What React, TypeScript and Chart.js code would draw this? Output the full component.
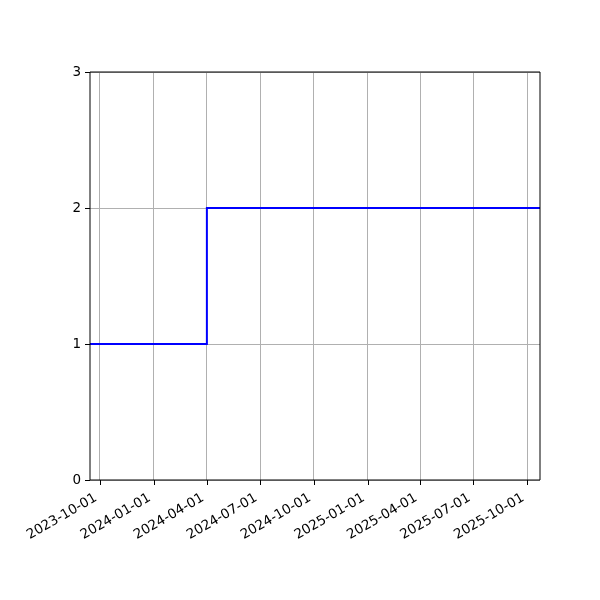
import React, { useEffect, useRef } from 'react';
import { Chart, registerables } from 'chart.js';

Chart.register(...registerables);

const dates = ['2023-09-14', '2024-04-01', '2025-10-23'];
const values = [1, 2, 2];
const xTickLabels = [
  '2023-10-01', '2024-01-01', '2024-04-01', '2024-07-01', '2024-10-01',
  '2025-01-01', '2025-04-01', '2025-07-01', '2025-10-01',
];
const yTicks = [0, 1, 2, 3];

const toDay = (s: string) => Date.parse(s + 'T00:00:00Z') / 86400000;
const fromDay = (d: number) => new Date(Math.round(d) * 86400000).toISOString().slice(0, 10);

// draw black outward tick marks and the frame like matplotlib
const framePlugin = {
  id: 'frame',
  afterDraw(chart: any) {
    const { ctx, chartArea: a, scales } = chart;
    ctx.save();
    ctx.strokeStyle = '#000';
    ctx.lineWidth = 1;
    ctx.beginPath();
    ctx.moveTo(a.left, a.top);
    ctx.lineTo(a.right, a.top);
    ctx.lineTo(a.right, a.bottom);
    ctx.lineTo(a.left, a.bottom);
    ctx.lineTo(a.left, a.top);
    scales.x.ticks.forEach((_: any, i: number) => {
      const x = Math.round(scales.x.getPixelForTick(i)) + 0.5;
      ctx.moveTo(x, a.bottom);
      ctx.lineTo(x, a.bottom + 5);
    });
    scales.y.ticks.forEach((_: any, i: number) => {
      const y = Math.round(scales.y.getPixelForTick(i)) + 0.5;
      ctx.moveTo(a.left, y);
      ctx.lineTo(a.left - 5, y);
    });
    ctx.stroke();
    ctx.restore();
  },
};

const App: React.FC = () => {
  const canvasRef = useRef<HTMLCanvasElement>(null);

  useEffect(() => {
    const ctx = canvasRef.current?.getContext('2d');
    if (!ctx) return;
    const font = { family: 'DejaVu Sans', size: 13.5 };
    const chart = new Chart(ctx, {
      type: 'line',
      data: {
        datasets: [
          {
            data: dates.map((d, i) => ({ x: toDay(d), y: values[i] })),
            borderColor: '#0000ff',
            borderWidth: 2,
            stepped: 'before',
            pointRadius: 0,
            fill: false,
          },
        ],
      },
      options: {
        responsive: false,
        animation: false,
        events: [],
        layout: { padding: { top: 72, right: 60, left: 0, bottom: 0 } },
        plugins: { legend: { display: false }, tooltip: { enabled: false } },
        scales: {
          x: {
            type: 'linear',
            min: toDay(dates[0]),
            max: toDay(dates[dates.length - 1]),
            afterBuildTicks: (s: any) => {
              s.ticks = xTickLabels.map((t) => ({ value: toDay(t) }));
            },
            afterFit: (s: any) => {
              s.height = 120;
            },
            grid: { color: '#b0b0b0', lineWidth: 1, drawTicks: false },
            border: { display: false },
            ticks: {
              color: '#000',
              font,
              minRotation: 30,
              maxRotation: 30,
              padding: 10,
              labelOffset: -4,
              autoSkip: false,
              callback: (v: any) => fromDay(Number(v)),
            },
          },
          y: {
            type: 'linear',
            min: 0,
            max: 3,
            afterBuildTicks: (s: any) => {
              s.ticks = yTicks.map((v) => ({ value: v }));
            },
            afterFit: (s: any) => {
              s.width = 90;
            },
            grid: { color: '#b0b0b0', lineWidth: 1, drawTicks: false },
            border: { display: false },
            ticks: { color: '#000', font, padding: 9, callback: (v: any) => String(v) },
          },
        },
      },
      plugins: [framePlugin],
    });
    return () => chart.destroy();
  }, []);

  return (
    <div style={{ position: 'absolute', left: 0, top: 0, width: 600, height: 600, background: '#fff' }}>
      <canvas ref={canvasRef} width={600} height={600} style={{ width: 600, height: 600 }} />
    </div>
  );
};

export default App;
